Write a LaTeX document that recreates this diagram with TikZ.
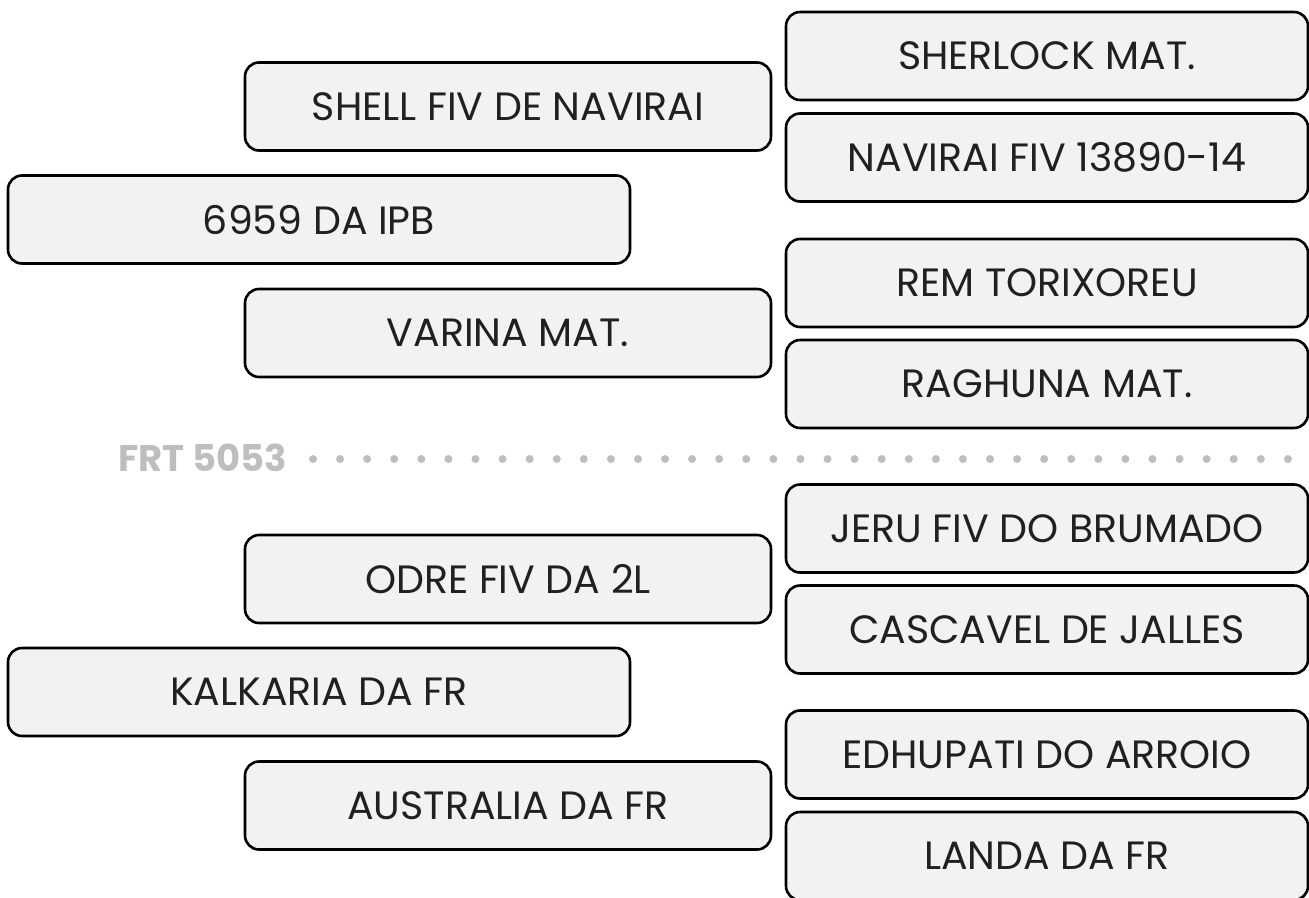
\documentclass[tikz,border=0pt]{standalone}
\usepackage{fontspec}
\setmainfont{Poppins}
\usepackage{tikz}
\usetikzlibrary{positioning}
\definecolor{boxfill}{HTML}{F1F2F4}
\definecolor{boxtext}{HTML}{231F20}
\definecolor{markgray}{HTML}{BCBEC0}
\tikzstyle{rightbox} = [rectangle, rounded corners=14pt, minimum width=522pt, minimum height=88pt, text centered, draw=black, line width=2.6pt, fill=boxfill, text=boxtext, font=\fontsize{39.5}{44}\selectfont]
\tikzstyle{midbox} = [rightbox, minimum width=526pt]
\tikzstyle{farbox} = [rightbox, minimum width=622pt]
\tikzstyle{marker} = [anchor=base west, text=markgray, font=\fontsize{37}{42}\selectfont\bfseries, inner sep=0pt]

\begin{document}
\begin{tikzpicture}[x=1pt, y=-1pt]
\useasboundingbox (0,0) rectangle (1309,897);
\clip (0,0) rectangle (1309,897);

% upper half
\node (sherlock) [rightbox] at (1047,56) {SHERLOCK MAT.};
\node (shell) [midbox] at (508,106.5) {SHELL FIV DE NAVIRAI};
\node (navirai) [rightbox] at (1047,157.5) {NAVIRAI FIV 13890-14};
\node (ipb) [farbox] at (319,219.5) {6959 DA IPB};
\node (rem) [rightbox] at (1047,283) {REM TORIXOREU};
\node (varina) [midbox] at (508,333) {VARINA MAT.};
\node (raghuna) [rightbox] at (1047,384) {RAGHUNA MAT.};

% divider
\node (frt) [marker] at (118,471) {FRT 5053};
\foreach \i in {0,...,36}
  \fill[markgray] (313+27.08*\i,459) circle (4pt);

% lower half
\node (jeru) [rightbox] at (1047,528.5) {JERU FIV DO BRUMADO};
\node (odre) [midbox] at (508,579) {ODRE FIV DA 2L};
\node (cascavel) [rightbox] at (1047,629.5) {CASCAVEL DE JALLES};
\node (kalkaria) [farbox] at (319,692) {KALKARIA DA FR};
\node (edhupati) [rightbox] at (1047,754.5) {EDHUPATI DO ARROIO};
\node (australia) [midbox] at (508,805.5) {AUSTRALIA DA FR};
\node (landa) [rightbox] at (1047,856) {LANDA DA FR};
\end{tikzpicture}
\end{document}
